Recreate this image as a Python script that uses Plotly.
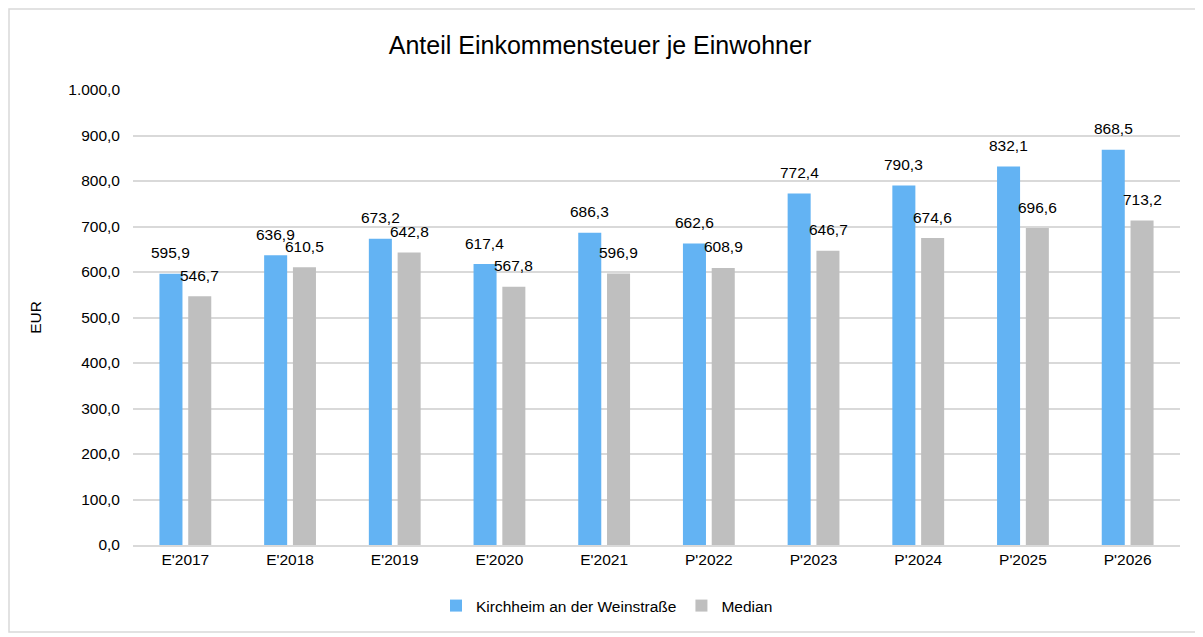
import plotly.graph_objects as go

categories = ["E'2017", "E'2018", "E'2019", "E'2020", "E'2021", "P'2022", "P'2023", "P'2024", "P'2025", "P'2026"]
kirchheim = [595.9, 636.9, 673.2, 617.4, 686.3, 662.6, 772.4, 790.3, 832.1, 868.5]
median = [546.7, 610.5, 642.8, 567.8, 596.9, 608.9, 646.7, 674.6, 696.6, 713.2]
series_names = ["Kirchheim an der Weinstraße", "Median"]
colors = ["#63B3F3", "#BFBFBF"]

OFF = 8  # page body margin
W, H = 1203 - OFF, 637 - OFF
ml, mr, mt, mb = 133 - OFF, 23, 90 - OFF, 92
FONT = "Liberation Sans, Arial"
FS = 15.5

def fmt(v):
    return f"{v:.1f}".replace(".", ",")

fig = go.Figure()
for name, vals, col in zip(series_names, [kirchheim, median], colors):
    fig.add_trace(go.Bar(x=categories, y=vals, name=name, marker_color=col,
                         marker_line_width=0, text=[fmt(v) for v in vals],
                         textposition="none", hoverinfo="x+y+name"))

# value labels centred above each bar (offset per series inside the group)
annotations = []
for vals, xs in [(kirchheim, -14.5), (median, 14.5)]:
    for c, v in zip(categories, vals):
        annotations.append(dict(x=c, y=v, xref="x", yref="y", text=fmt(v),
                                showarrow=False, yshift=21, xshift=xs,
                                font=dict(family=FONT, size=FS, color="#000000")))

pw = W - ml - mr
ph = H - mt - mb
fig.add_shape(type="rect", xref="paper", yref="paper",
              x0=(1 - ml) / pw, x1=(1197 - OFF - ml) / pw,
              y0=(H - mb - (632 - OFF)) / ph, y1=(H - mb - 1) / ph,
              line=dict(color="#D9D9D9", width=1.5), fillcolor="rgba(0,0,0,0)", layer="below")

fig.update_layout(
    width=W, height=H,
    margin=dict(l=ml, r=mr, t=mt, b=mb),
    paper_bgcolor="white", plot_bgcolor="white",
    separators=",.",
    barmode="group", bargap=0.45, bargroupgap=0.2,
    title=dict(text="Anteil Einkommensteuer je Einwohner", x=(600 - OFF) / W, xref="container", xanchor="center",
               y=1 - (45 - OFF) / H, yanchor="middle",
               font=dict(family=FONT, size=25, color="#000000")),
    font=dict(family=FONT, size=FS, color="#000000"),
    yaxis=dict(range=[0, 1000], dtick=100, tickformat=",.1f", showgrid=True,
               gridcolor="#D9D9D9", gridwidth=1.5, zeroline=False, showline=False,
               ticks="", ticklabelstandoff=12,
               title=dict(text="EUR", standoff=22, font=dict(size=FS))),
    xaxis=dict(showline=True, linecolor="#D9D9D9", linewidth=1.5, ticks="",
               tickfont=dict(size=FS), tickangle=0),
    legend=dict(orientation="h", xref="container", x=(607 - OFF) / W, xanchor="center",
                yref="container", y=1 - (606 - OFF) / H, yanchor="middle",
                font=dict(size=FS), itemwidth=30, traceorder="normal"),
    annotations=annotations,
)

fig.write_html("out.html", config={"displayModeBar": False})
